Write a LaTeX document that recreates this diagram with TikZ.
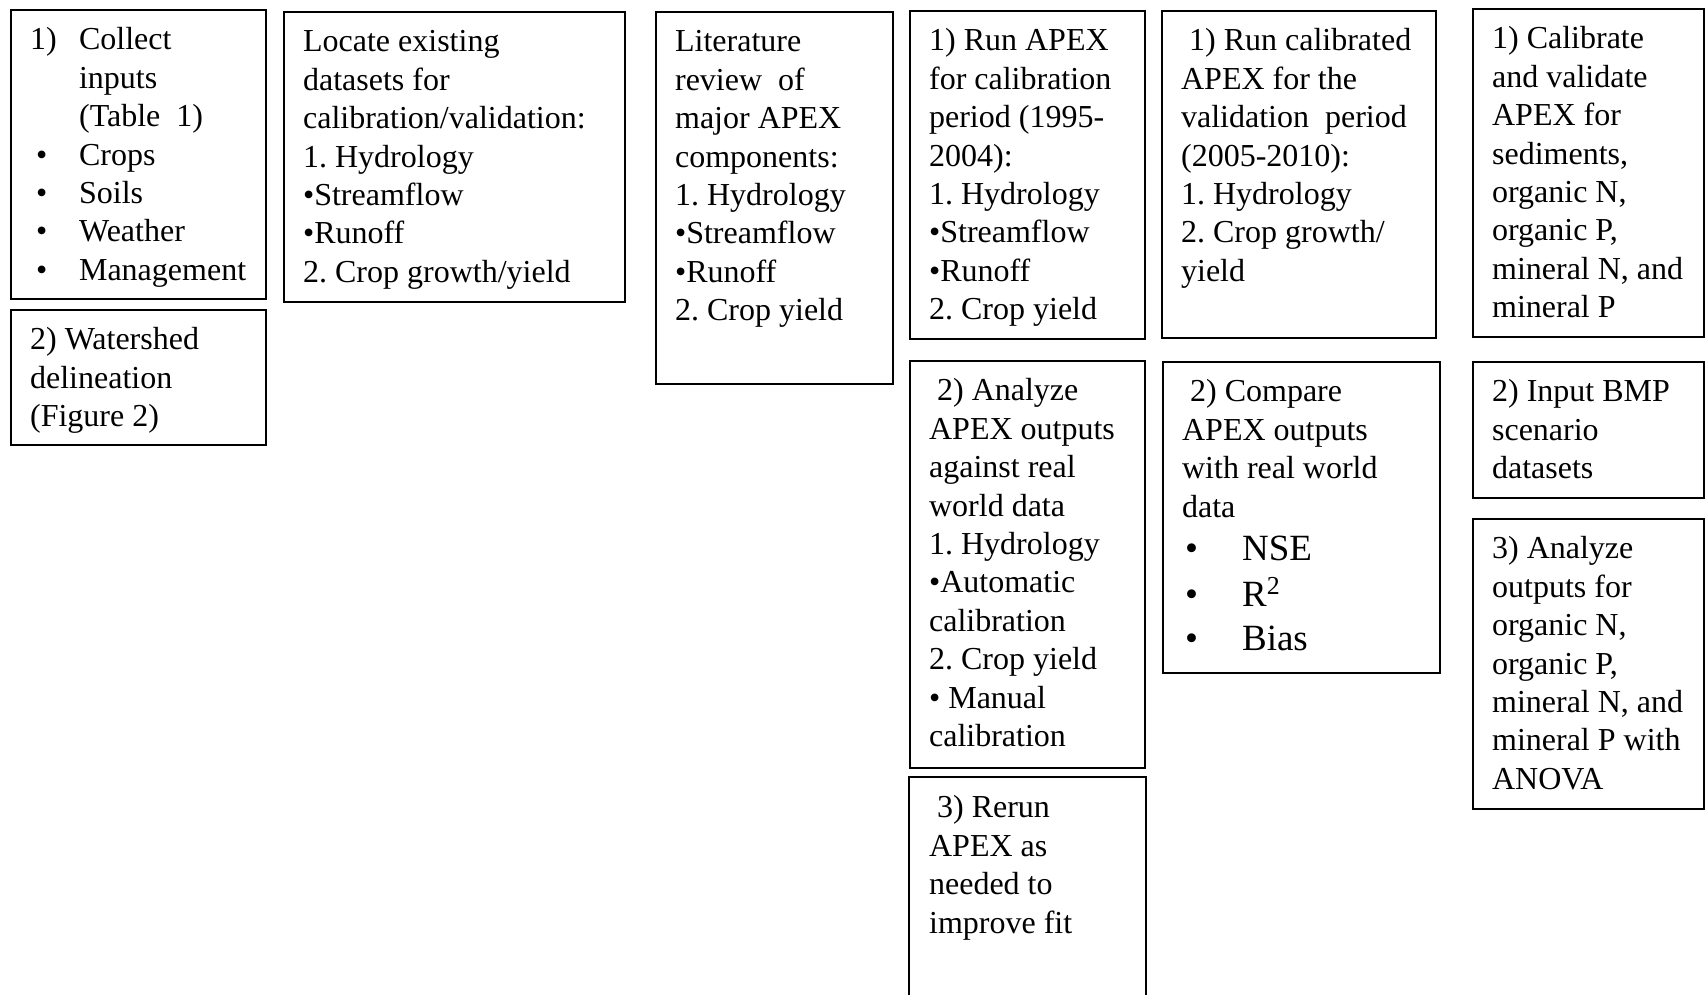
\documentclass[tikz,border=0pt]{standalone}
\usepackage{fontspec}
\setmainfont{Liberation Serif}
\usetikzlibrary{positioning}
\frenchspacing
% text of a box: box width and height in px, then the lines
\newcommand{\celltext}[3]{\parbox[t][\dimexpr #2pt/2-13pt\relax][t]{\dimexpr #1pt/2-19pt\relax}{\begin{tabular}[t]{@{}l@{}}#3\end{tabular}}}
\newcommand{\tab}[1]{\makebox[24.5pt][l]{#1}}

\begin{document}
\begin{tikzpicture}[
    % GLOBAL CFG
    x=0.5pt, y=-0.5pt,
    font=\fontsize{16}{19.2}\selectfont,
    % Styles
    stage/.style={% For every box
        rectangle,
        draw,
        line width=1.1pt,
        inner xsep=9.5pt,
        inner ysep=6.5pt,
        anchor=north west,
        },
    ]
    \useasboundingbox (0,0) rectangle (1707,995);

    % First column: inputs
    \node [stage] (collect) at (10,9) {\celltext{255}{289}{%
        \tab{1)}Collect\\ \tab{}inputs\\ \tab{}(Table\ \ 1)\\
        \tab{\hspace{3pt}\textbullet}Crops\\ \tab{\hspace{3pt}\textbullet}Soils\\
        \tab{\hspace{3pt}\textbullet}Weather\\ \tab{\hspace{3pt}\textbullet}Management}};
    \node [stage] (watershed) at (10,309) {\celltext{255}{135}{%
        2) Watershed\\ delineation\\ (Figure 2)}};

    % Datasets and literature
    \node [stage] (locate) at (283,11) {\celltext{341}{290}{%
        Locate existing\\ datasets for\\ calibration/validation:\\ 1. Hydrology\\
        \textbullet Streamflow\\ \textbullet Runoff\\ 2. Crop growth/yield}};
    \node [stage] (litreview) at (655,11) {\celltext{237}{372}{%
        Literature\\ review\ \ of\\ major APEX\\ components:\\ 1. Hydrology\\
        \textbullet Streamflow\\ \textbullet Runoff\\ 2. Crop yield}};

    % Calibration column
    \node [stage] (runcal) at (909,10) {\celltext{235}{328}{%
        1) Run APEX\\ for calibration\\ period (1995-\\ 2004):\\ 1. Hydrology\\
        \textbullet Streamflow\\ \textbullet Runoff\\ 2. Crop yield}};
    \node [stage] (analyze) at (909,360) {\celltext{235}{407}{%
        \ 2) Analyze\\ APEX outputs\\ against real\\ world data\\ 1. Hydrology\\
        \textbullet Automatic\\ calibration\\ 2. Crop yield\\ \textbullet\ Manual\\ calibration}};
    \node [stage, draw=none] (rerun) at (909,777) {\celltext{235}{218}{%
        \ 3) Rerun\\ APEX as\\ needed to\\ improve fit}};
    \draw [line width=1.1pt] (rerun.south west) |- (rerun.north east) -- (rerun.south east);

    % Validation column
    \node [stage] (runval) at (1161,10) {\celltext{274}{327}{%
        \ 1) Run calibrated\\ APEX for the\\ validation\ \ period\\ (2005-2010):\\
        1. Hydrology\\ 2. Crop growth/\\ yield}};
    \node [stage] (compare) at (1162,361) {\celltext{277}{311}{%
        \ 2) Compare\\ APEX outputs\\ with real world\\ data\\[2.5pt]
        {\fontsize{18.5}{22}\selectfont\hspace{1.5pt}\makebox[28.5pt][l]{\textbullet}NSE}\\[2.5pt]
        {\fontsize{18.5}{22}\selectfont\hspace{1.5pt}\makebox[28.5pt][l]{\textbullet}R\textsuperscript{2}}\\[2.5pt]
        {\fontsize{18.5}{22}\selectfont\hspace{1.5pt}\makebox[28.5pt][l]{\textbullet}Bias}}};

    % Scenario column
    \node [stage] (calval) at (1472,8) {\celltext{231}{328}{%
        1) Calibrate\\ and validate\\ APEX for\\ sediments,\\ organic N,\\
        organic P,\\ mineral N, and\\ mineral P}};
    \node [stage] (inputbmp) at (1472,361) {\celltext{231}{136}{%
        2) Input BMP\\ scenario\\ datasets}};
    \node [stage] (anova) at (1472,518) {\celltext{231}{290}{%
        3) Analyze\\ outputs for\\ organic N,\\ organic P,\\ mineral N, and\\
        mineral P with\\ ANOVA}};

\end{tikzpicture}
\end{document}
